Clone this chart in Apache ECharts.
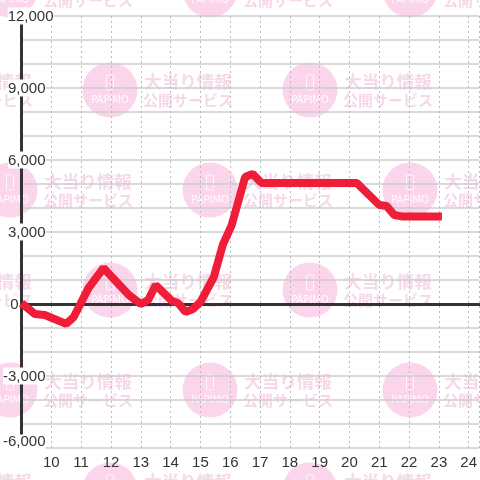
<!DOCTYPE html>
<html><head><meta charset="utf-8">
<style>html,body{margin:0;padding:0;background:#fff}#c{width:480px;height:480px}</style>
<script src="https://cdn.jsdelivr.net/npm/echarts@6/dist/echarts.min.js"></script>
</head><body><div id="c"></div>
<script>
const hours = [9,9.45,9.78,10.5,10.75,11.25,11.75,12.6,13,13.25,13.5,14.05,14.25,14.5,14.75,15,15.45,15.75,16.05,16.5,16.75,17.05,20.25,21,21.25,21.5,21.75,23.1];
const values = [40,-420,-460,-830,-540,670,1500,375,0,170,790,125,40,-330,-210,80,1125,2460,3290,5290,5420,5040,5040,4125,4080,3710,3650,3650];
const yTicks = [-6000,-3000,0,3000,6000,9000,12000];
const xMin = 9, xMax = 24.35;

const chart = echarts.init(document.getElementById('c'), null, {renderer:'canvas'});

const wm = [];
for (let r = 0; r < 6; r++) {
  const cy = -10 + 100 * r;
  for (let k = -1; k < 3; k++) {
    const cx = 10 + 200 * k + (r % 2 ? 100 : 0);
    wm.push({type:'circle', z:-10, silent:true, shape:{cx, cy, r:27.5}, style:{fill:'#fbd5ec'}});
    wm.push({type:'rect', z:-9, silent:true, shape:{x:cx-3.5, y:cy-15, width:7, height:15, r:1}, style:{fill:'none', stroke:'#fff', lineWidth:1, opacity:.8}});
    wm.push({type:'text', z:-9, silent:true, x:cx, y:cy+10, style:{text:'PAPIMO', fill:'#fff', font:'10px "DejaVu Sans", sans-serif', align:'center', verticalAlign:'middle', opacity:.9}});
    wm.push({type:'text', z:-9, silent:true, x:cx+78, y:cy-9, style:{text:'大当り情報', fill:'#f5d9ea', font:'bold 17.5px "Noto Sans CJK JP", sans-serif', align:'center', verticalAlign:'middle'}});
    wm.push({type:'text', z:-9, silent:true, x:cx+78, y:cy+10, style:{text:'公開サービス', fill:'#f5d9ea', font:'bold 15px "Noto Sans CJK JP", sans-serif', align:'center', verticalAlign:'middle'}});
  }
}

const fmtY = v => {
  if (!yTicks.includes(v)) return '';
  const s = v.toLocaleString('en-US');
  if (v === 12000) return '{t|' + s + '}';
  if (v === 0) return '{t|' + s + '}{z|}';
  if (v === -6000) return '{b|' + s + '}{g|}';
  return '{t|' + s + '}{g|}';
};
const tStyle = {fontFamily:'"Liberation Sans", Arial, sans-serif', fontSize:15, color:'#333', backgroundColor:'#fff', padding:[2,0,0,0], lineHeight:16};

chart.setOption({
  animation:false,
  backgroundColor:'#fff',
  graphic:{elements:wm},
  grid:{left:19,right:0,top:16,bottom:32,containLabel:false},
  xAxis:[{
    type:'value', min:xMin, max:xMax, interval:1, position:'bottom',
    axisLine:{show:false, onZero:false}, axisTick:{show:false},
    axisLabel:{fontFamily:'"Liberation Sans", Arial, sans-serif', fontSize:15, color:'#333', margin:7,
      showMinLabel:false, showMaxLabel:false,
      formatter:v => (v >= 10 && v <= 24) ? String(v) : ''},
    splitLine:{show:true, lineStyle:{color:'#bbb', width:1, type:[2,3]}}
  },{
    type:'value', min:xMin, max:xMax, interval:1, position:'top',
    axisLine:{show:true, onZero:true, lineStyle:{color:'#333', width:3}},
    axisTick:{show:false}, axisLabel:{show:false}, splitLine:{show:false}
  }],
  yAxis:{
    type:'value', min:-6000, max:12000, interval:1000,
    axisLine:{show:true, onZero:false, lineStyle:{color:'#333', width:3}}, axisTick:{show:false},
    axisLabel:{margin:-32, align:'right', verticalAlign:'middle', formatter:fmtY,
      rich:{t:tStyle, b:Object.assign({}, tStyle, {padding:[0,0,12,0]}), g:{width:8}, z:{width:35}}},
    splitLine:{show:true, lineStyle:{color:'#ccc', width:1.5}}
  },
  series:[{
    type:'line', xAxisIndex:0, yAxisIndex:0, data:hours.map((h,i)=>[h,values[i]]),
    showSymbol:false, smooth:false, clip:false, z:5,
    lineStyle:{color:'#ef1d38', width:8, join:'bevel', cap:'butt'}
  }]
});
</script></body></html>
